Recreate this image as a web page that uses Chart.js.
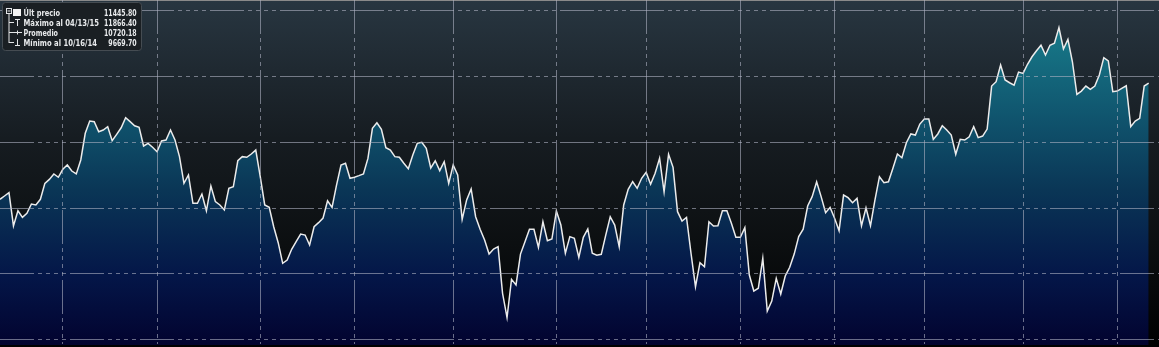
<!DOCTYPE html>
<html lang="es">
  <head>
    <meta charset="UTF-8" />
    <title>Precio</title>
    <script src="https://cdn.jsdelivr.net/npm/chart.js"></script>
    <style>
      body { margin: 0; background: #000; }
      #wrap {
        position: relative;
        width: 1159px;
        height: 347px;
        background: linear-gradient(#283641 0%, #161c21 40%, #0c0f11 70%, #000 100%);
      }
      #legend { position: absolute; left: 0; top: 0; }
      #legend text {
        font-family: "DejaVu Sans", sans-serif;
        font-weight: bold;
        font-size: 9px;
        fill: #e8eaec;
      }
    </style>
  </head>
  <body>
    <div id="wrap">
      <canvas id="chart" width="1159" height="347"></canvas>
      <svg id="legend" width="146" height="54">
        <rect x="2.5" y="2.5" width="139" height="48" rx="3" fill="#1a1f23" stroke="#454c52" />
        <!-- arbol -->
        <rect x="6.5" y="8.5" width="5" height="5" fill="none" stroke="#e4e6e8" />
        <line x1="7.5" y1="11" x2="10.5" y2="11" stroke="#e4e6e8" />
        <path d="M9 14 V43 M9 22.5 H14 M9 32.5 H14 M9 42.5 H14" stroke="#e4e6e8" fill="none" />
        <rect x="13" y="9" width="8" height="7" fill="#f4f4f4" />
        <path d="M15 19.5 H20 M17.5 19.5 V26" stroke="#e4e6e8" fill="none" />
        <path d="M14 32.5 H22 M17.5 30.5 V34.5" stroke="#e4e6e8" fill="none" />
        <path d="M17.5 39 V45 M15 45.5 H20" stroke="#e4e6e8" fill="none" />
        <text x="23.5" y="16" textLength="36.5" lengthAdjust="spacingAndGlyphs">Últ precio</text>
        <text x="23.5" y="26.2" textLength="75.5" lengthAdjust="spacingAndGlyphs">Máximo al 04/13/15</text>
        <text x="23.5" y="36" textLength="34.5" lengthAdjust="spacingAndGlyphs">Promedio</text>
        <text x="23.5" y="45.7" textLength="73.5" lengthAdjust="spacingAndGlyphs">Mínimo al 10/16/14</text>
        <text x="104" y="16" textLength="32.7" lengthAdjust="spacingAndGlyphs">11445.80</text>
        <text x="104" y="26.2" textLength="32.7" lengthAdjust="spacingAndGlyphs">11866.40</text>
        <text x="104" y="36" textLength="32.7" lengthAdjust="spacingAndGlyphs">10720.18</text>
        <text x="108.3" y="45.7" textLength="28.4" lengthAdjust="spacingAndGlyphs">9669.70</text>
      </svg>
    </div>
    <script>
      // cierre diario, una sesion por valor
      var prices = [
        10566, 10591, 10616, 10364, 10479, 10429, 10460, 10530, 10523, 10566,
        10687, 10717, 10758, 10733, 10793, 10826, 10780, 10758, 10864, 11066,
        11159, 11154, 11078, 11091, 11116, 11010, 11058, 11108, 11184, 11154,
        11123, 11111, 10970, 10990, 10960, 10926, 11008, 11015, 11091, 11015,
        10889, 10687, 10750, 10536, 10536, 10606, 10479, 10667, 10548, 10523,
        10485, 10649, 10661, 10858, 10889, 10884, 10909, 10939, 10737, 10523,
        10505, 10358, 10237, 10081, 10106, 10187, 10245, 10303, 10295, 10220,
        10358, 10389, 10424, 10555, 10505, 10674, 10826, 10839, 10725, 10733,
        10745, 10758, 10876, 11104, 11146, 11096, 10957, 10939, 10889, 10884,
        10839, 10798, 10901, 10990, 10998, 10952, 10803, 10858, 10783, 10851,
        10687, 10826, 10750, 10414, 10561, 10644, 10434, 10339, 10258, 10151,
        10189, 10207, 9854, 9669.7, 9960, 9917, 10151, 10245, 10339, 10339,
        10202, 10396, 10252, 10265, 10477, 10371, 10157, 10283, 10270, 10126,
        10278, 10341, 10157, 10142, 10149, 10295, 10434, 10371, 10207, 10523,
        10642, 10699, 10649, 10725, 10770, 10680, 10763, 10876, 10623, 10907,
        10808, 10472, 10401, 10429, 10157, 9904, 10086, 10055, 10396, 10364,
        10366, 10479, 10479, 10384, 10278, 10278, 10351, 9992, 9871, 9892,
        10119, 9720, 9795, 9967, 9848, 9985, 10051, 10151, 10283, 10339,
        10515, 10586, 10699, 10586, 10464, 10505, 10422, 10328, 10598, 10578,
        10540, 10573, 10366, 10502, 10366, 10561, 10737, 10692, 10699, 10801,
        10909, 10881, 10995, 11061, 11053, 11136, 11174, 11174, 11020, 11061,
        11123, 11091, 11053, 10907, 11020, 11015, 11040, 11116, 11033, 11045,
        11098, 11424, 11457, 11583, 11470, 11449, 11430, 11530, 11520, 11589,
        11646, 11692, 11733, 11659, 11733, 11748, 11866.4, 11705, 11778, 11608,
        11361, 11386, 11424, 11399, 11424, 11508, 11639, 11614, 11381, 11386,
        11407, 11426, 11116, 11159, 11179, 11424, 11445.8
      ];

      // primera sesion de cada mes (jun 2014 - may 2015)
      var monthStarts = [14, 35, 58, 79, 101, 124, 144, 165, 186, 206, 228, 249];

      // lineas horizontales
      var yTicks = [9500, 10000, 10500, 11000, 11500, 12000];

      var gridDash = [34, 4, 4, 4, 4, 4, 4, 4, 4, 4];

      var points = prices.map(function (p, i) {
        return { x: i, y: p };
      });

      var fillGradient = function (context) {
        var chart = context.chart;
        var area = chart.chartArea;
        if (!area) return "#0a3656";
        var g = chart.ctx.createLinearGradient(0, area.top, 0, area.bottom);
        g.addColorStop(0, "#1a8692");
        g.addColorStop(0.3, "#115a72");
        g.addColorStop(0.55, "#0a3656");
        g.addColorStop(0.8, "#041648");
        g.addColorStop(1, "#02032f");
        return g;
      };

      new Chart(document.getElementById("chart").getContext("2d"), {
        type: "line",
        data: {
          datasets: [
            {
              data: points,
              borderColor: "#ececec",
              borderWidth: 1.5,
              pointRadius: 0,
              fill: "start",
              backgroundColor: fillGradient,
              tension: 0,
            },
          ],
        },
        options: {
          responsive: false,
          animation: false,
          layout: { padding: { left: 0, right: 0, top: 0, bottom: 2 } },
          plugins: { legend: { display: false }, tooltip: { enabled: false } },
          scales: {
            x: {
              type: "linear",
              min: 0,
              max: 258.3,
              afterBuildTicks: function (scale) {
                scale.ticks = monthStarts.map(function (v) {
                  return { value: v };
                });
              },
              ticks: { display: false },
              grid: {
                color: "rgba(175,178,195,0.6)",
                lineWidth: 1,
                drawTicks: false,
                z: 1,
              },
              border: { display: true, color: "#8a8a8a", width: 2, dash: gridDash },
            },
            y: {
              min: 9462,
              max: 12076,
              afterBuildTicks: function (scale) {
                scale.ticks = yTicks.map(function (v) {
                  return { value: v };
                });
              },
              ticks: { display: false },
              grid: {
                color: "rgba(175,178,195,0.6)",
                lineWidth: 1,
                drawTicks: false,
                z: 1,
              },
              border: { display: false, dash: gridDash },
            },
          },
        },
      });
    </script>
  </body>
</html>
